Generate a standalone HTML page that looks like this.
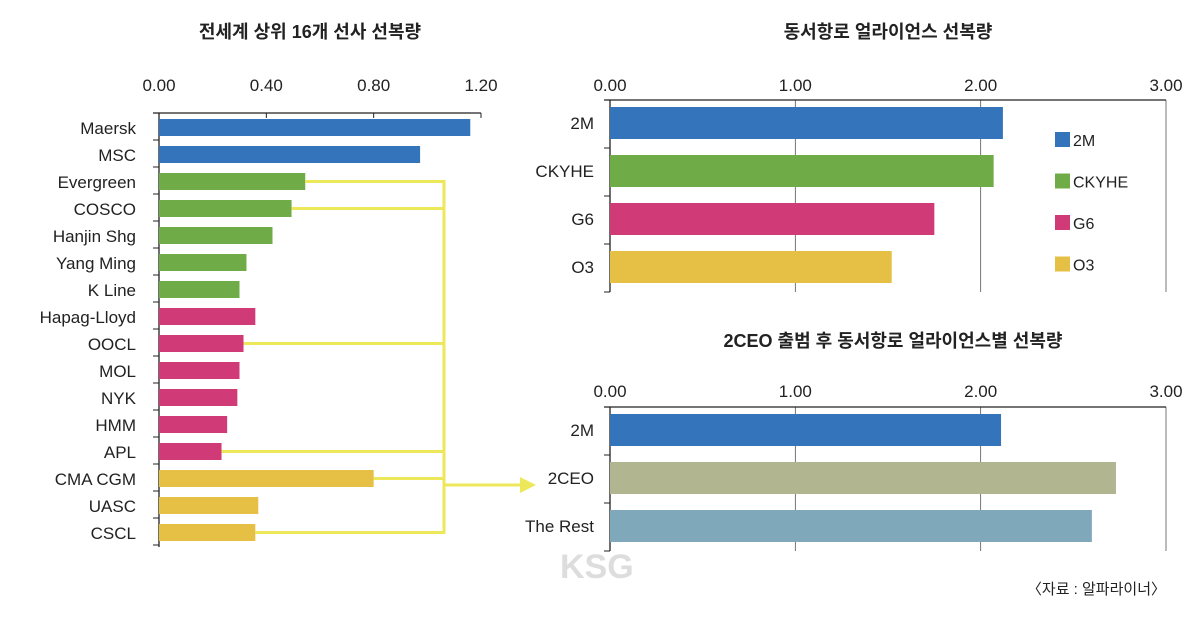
<!DOCTYPE html>
<html><head><meta charset="utf-8">
<style>
body{margin:0;background:#fff;}
svg text{font-family:"Liberation Sans","Noto Sans CJK KR",sans-serif;fill:#222;}
</style></head>
<body>
<svg id="c" width="1197" height="613" xmlns="http://www.w3.org/2000/svg">
<text x="310" y="38" text-anchor="middle" font-size="18" font-weight="bold">전세계 상위 16개 선사 선복량</text>
<text x="888" y="38" text-anchor="middle" font-size="18" font-weight="bold">동서항로 얼라이언스 선복량</text>
<text x="893" y="347" text-anchor="middle" font-size="18" font-weight="bold">2CEO 출범 후 동서항로 얼라이언스별 선복량</text>
<text x="1166" y="594" text-anchor="end" font-size="15">〈자료 : 알파라이너〉</text>
<text x="560" y="578" font-size="34" font-weight="bold" fill="#ddd" style="fill:#ddd">KSG</text>
<g id="g"></g>
</svg>
<script>
const leftCats=["Maersk","MSC","Evergreen","COSCO","Hanjin Shg","Yang Ming","K Line","Hapag-Lloyd","OOCL","MOL","NYK","HMM","APL","CMA CGM","UASC","CSCL"];
const leftVals=[1.16,0.973,0.545,0.494,0.423,0.326,0.30,0.359,0.315,0.30,0.292,0.254,0.233,0.80,0.37,0.359];
const leftGroups=[0,0,1,1,1,1,1,2,2,2,2,2,2,3,3,3];
const leftTicks=[0,0.4,0.8,1.2];
const leftTickLabels=["0.00","0.40","0.80","1.20"];
const topCats=["2M","CKYHE","G6","O3"];
const topVals=[2.12,2.07,1.75,1.52];
const botCats=["2M","2CEO","The Rest"];
const botVals=[2.11,2.73,2.60];
const rightTicks=[0,1,2,3];
const rightTickLabels=["0.00","1.00","2.00","3.00"];
const colors=["#3474bb","#6fac47","#cf3a77","#e6c044"];
const botColors=["#3474bb","#b2b690","#7fa8bb"];

const NS="http://www.w3.org/2000/svg";
const G=document.getElementById('g');
function el(t,a){const e=document.createElementNS(NS,t);for(const k in a)e.setAttribute(k,a[k]);G.appendChild(e);return e;}

// left chart
const lx=v=>159+v*(481-159)/1.2;
const lTop=113,lBand=27;
let ax=el('line',{x1:153,y1:lTop,x2:lx(1.2),y2:lTop,stroke:'#222','stroke-width':1.3});

let ay=el('line',{x1:159,y1:lTop,x2:159,y2:lTop+lBand*16+2,stroke:'#222','stroke-width':1.3});

leftTicks.forEach((t,i)=>{
  const tk=el('line',{x1:lx(t),y1:lTop,x2:lx(t),y2:lTop+5,stroke:'#222'});
  
  const tx=el('text',{x:lx(t),y:91,'text-anchor':'middle','font-size':17});tx.textContent=leftTickLabels[i];
  
});
leftCats.forEach((c,i)=>{
  const y=lTop+i*lBand;
  const tk=el('line',{x1:153,y1:y+lBand,x2:159,y2:y+lBand,stroke:'#222'});
  
  const r=el('rect',{x:159,y:y+6,width:lx(leftVals[i])-159,height:17,fill:colors[leftGroups[i]]});
  
  const tx=el('text',{x:136,y:y+21,'text-anchor':'end','font-size':17});tx.textContent=c;
  
});
// bracket
const bx=444,yc=i=>lTop+i*lBand+14.5;
[2,3,8,12,13,15].forEach(i=>{
  const l=el('line',{x1:lx(leftVals[i]),y1:yc(i),x2:bx,y2:yc(i),stroke:'#ece85a','stroke-width':3});
  
});
let bv=el('line',{x1:bx,y1:yc(2)-1.5,x2:bx,y2:yc(15)+1.5,stroke:'#ece85a','stroke-width':3});

let ar=el('line',{x1:bx,y1:485,x2:522,y2:485,stroke:'#ece85a','stroke-width':3});

let ah=el('polygon',{points:'520,477 536,485 520,493',fill:'#ece85a'});


// right charts
const rx=v=>610+v*(1166-610)/3;
function rchart(cats,vals,cols,top,prefix,tickY){
  const band=48,bottom=top+band*cats.length;
  rightTicks.forEach((t,i)=>{
    const gl=el('line',{x1:rx(t),y1:top,x2:rx(t),y2:bottom,stroke:t===0?'#222':'#555','stroke-width':t===0?1.3:0.8});
    
    const tx=el('text',{x:rx(t),y:tickY,'text-anchor':'middle','font-size':17});tx.textContent=rightTickLabels[i];
    
  });
  const a=el('line',{x1:604,y1:top,x2:rx(3),y2:top,stroke:'#222','stroke-width':1.3});
  
  cats.forEach((c,i)=>{
    const y=top+i*band;
    const tk=el('line',{x1:604,y1:y+band,x2:610,y2:y+band,stroke:'#222'});
    
    const r=el('rect',{x:610,y:y+7,width:rx(vals[i])-610,height:32,fill:cols[i]});
    
    const tx=el('text',{x:594,y:y+29,'text-anchor':'end','font-size':17});tx.textContent=c;
    
  });
}
rchart(topCats,topVals,colors,100,'top',91);
rchart(botCats,botVals,botColors,407,'bottom',397);
topCats.forEach((c,i)=>{
  const y=132+i*41.5;
  const r=el('rect',{x:1055,y:y,width:15,height:15,fill:colors[i]});
  
  const t=el('text',{x:1073,y:y+14,'font-size':16});t.textContent=c;
  
});
</script>
</body></html>
